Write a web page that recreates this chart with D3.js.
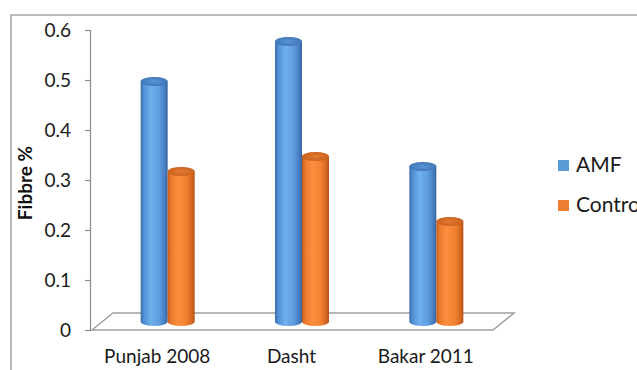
<!DOCTYPE html>
<html>
<head>
<meta charset="utf-8">
<script src="https://cdn.jsdelivr.net/npm/d3@7"></script>
<style>
  html, body { margin: 0; padding: 0; background: #fff; overflow: hidden; }
  svg { display: block; font-family: Lato, "Open Sans", sans-serif; }
</style>
</head>
<body>
<svg id="chart" width="637" height="370"></svg>
<script>
// Fibre content by site, AMF vs control
const categories = ["Punjab 2008", "Dasht", "Bakar 2011"];
const seriesNames = ["AMF", "Control"];
const amfValues = [0.48, 0.56, 0.31];
const controlValues = [0.30, 0.33, 0.20];
const yTicks = [0, 0.1, 0.2, 0.3, 0.4, 0.5, 0.6];

const svg = d3.select("#chart");
const defs = svg.append("defs");

// plot frame
const plotLeft = 90, plotRight = 493, plotTop = 30, floorY = 330;
const depth = { dx: 21, dy: -17 };   // floor depth offset
const half = { dx: depth.dx / 2, dy: depth.dy / 2 };

const x = d3.scaleBand().domain(categories).range([plotLeft, plotRight]).padding(0);
const xs = d3.scaleBand().domain(seriesNames).range([0, 54]).padding(0);
const y = d3.scaleLinear().domain([0, 0.6]).range([floorY, plotTop]);
const color = d3.scaleOrdinal().domain(seriesNames).range(["#5b9bd5", "#ed7d31"]);

// outer chart border
svg.append("path")
  .attr("d", "M11,370 V15 H637")
  .attr("fill", "none").attr("stroke", "#a6a6a6").attr("stroke-width", 1.6);

// cylinder gradients
const grads = {
  AMF: [["0%", "#3a6ca8"], ["12%", "#5190d6"], ["38%", "#6fb0ec"], ["70%", "#5d9bdf"], ["90%", "#477cbf"], ["100%", "#386399"]],
  Control: [["0%", "#c4591a"], ["12%", "#ea7a2e"], ["38%", "#fb8f3f"], ["70%", "#f2812f"], ["90%", "#d26621"], ["100%", "#b55016"]]
};
Object.entries(grads).forEach(([k, stops]) => {
  const g = defs.append("linearGradient").attr("id", "g-" + k)
    .attr("x1", "0%").attr("x2", "100%").attr("y1", "0%").attr("y2", "0%");
  stops.forEach(([o, c]) => g.append("stop").attr("offset", o).attr("stop-color", c));
});
const tops = { AMF: ["#5a95d6", "#3b70b0"], Control: ["#e57a30", "#c45d1c"] };
Object.entries(tops).forEach(([k, [c1, c2]]) => {
  const g = defs.append("radialGradient").attr("id", "t-" + k)
    .attr("cx", "50%").attr("cy", "50%").attr("r", "60%");
  g.append("stop").attr("offset", "0%").attr("stop-color", c1);
  g.append("stop").attr("offset", "100%").attr("stop-color", c2);
});

// floor
svg.append("path")
  .attr("d", `M${plotLeft + 2},${floorY} L${plotLeft + 2 + depth.dx},${floorY + depth.dy} H${plotRight + depth.dx} L${plotRight},${floorY} Z`)
  .attr("fill", "#fff").attr("stroke", "#a0a0a0").attr("stroke-width", 1.5);

// y axis
const yAxis = svg.append("g")
  .attr("transform", `translate(${plotLeft},0)`)
  .call(d3.axisLeft(y).tickValues(yTicks).tickSize(5).tickPadding(14)
    .tickFormat(d => d === 0 ? "0" : d.toFixed(1)));
yAxis.select(".domain").attr("stroke", "#8c8c8c").attr("stroke-width", 1.2);
yAxis.selectAll(".tick line").attr("stroke", "#8c8c8c").attr("stroke-width", 1.2);
yAxis.selectAll(".tick text").attr("font-size", 19).attr("fill", "#1a1a1a")
  .attr("font-family", "Lato, sans-serif");

// y axis title
svg.append("text")
  .attr("transform", "translate(32,183) rotate(-90)")
  .attr("text-anchor", "middle")
  .attr("font-size", 19).attr("font-weight", "bold").attr("fill", "#111")
  .text("Fibbre %");

// bars as cylinders
const rows = [];
categories.forEach((c, i) => {
  rows.push({ cat: c, s: "AMF", v: amfValues[i] });
  rows.push({ cat: c, s: "Control", v: controlValues[i] });
});
const bw = xs.bandwidth();
const ry = 4.5;
const cyl = svg.append("g").selectAll("g").data(rows).join("g")
  .attr("transform", d => {
    const cx = x(d.cat) + x.bandwidth() / 2 - 27 + xs(d.s) + half.dx;
    return `translate(${cx},${half.dy})`;
  });
cyl.append("path")
  .attr("d", d => {
    const yt = y(d.v), yb = y(0);
    return `M0,${yt} V${yb} A${bw / 2},${ry} 0 0 0 ${bw},${yb} V${yt} Z`;
  })
  .attr("fill", d => `url(#g-${d.s})`);
cyl.append("ellipse")
  .attr("cx", bw / 2).attr("cy", d => y(d.v))
  .attr("rx", bw / 2).attr("ry", ry)
  .attr("fill", d => `url(#t-${d.s})`);

// category labels
svg.append("g").selectAll("text").data(categories).join("text")
  .attr("x", d => x(d) + x.bandwidth() / 2)
  .attr("y", 363)
  .attr("text-anchor", "middle")
  .attr("font-size", 19).attr("fill", "#1a1a1a")
  .text(d => d);

// legend
const lg = svg.append("g").selectAll("g").data(seriesNames).join("g")
  .attr("transform", (d, i) => `translate(558,${160 + i * 40})`);
lg.append("rect").attr("width", 11).attr("height", 11).attr("fill", d => color(d));
lg.append("text").attr("x", 18).attr("y", 12)
  .attr("font-size", 21).attr("fill", "#1a1a1a").text(d => d);
</script>
</body>
</html>
